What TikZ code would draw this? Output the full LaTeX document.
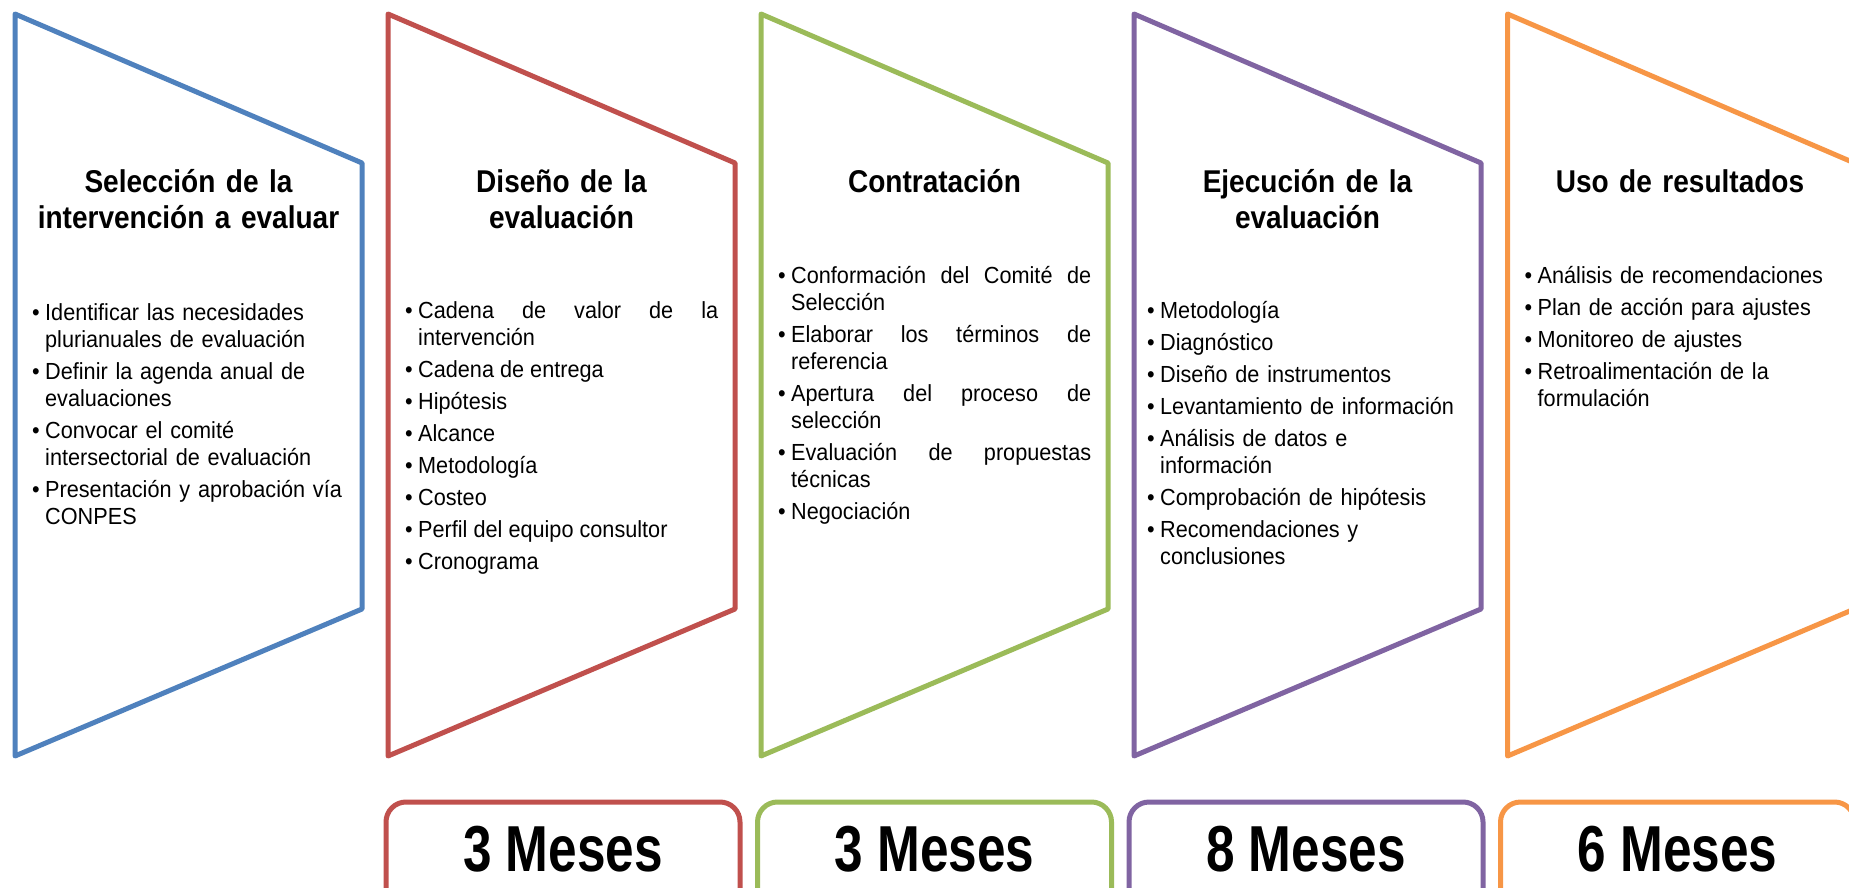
\documentclass[tikz,border=0pt]{standalone}
\usepackage{fontspec}
\setmainfont[FakeStretch=0.93]{Liberation Sans}
\newfontfamily\headfont[FakeStretch=0.89]{Liberation Sans}
\newfontfamily\mesfont[FakeStretch=0.79]{Liberation Sans}

\definecolor{cblue}{HTML}{4F81BD}
\definecolor{cred}{HTML}{C0504D}
\definecolor{cgreen}{HTML}{9BBB59}
\definecolor{cpurple}{HTML}{8064A2}
\definecolor{corange}{HTML}{F79646}

% bullet item with hanging indent
\newcommand{\bul}[1]{\noindent\hangindent=13pt\hangafter=1\makebox[13pt][l]{\textbullet}#1\par}

\begin{document}
\begin{tikzpicture}[x=1pt, y=-1pt,
    stage/.style={line width=5pt, line join=round},
    head/.style={font=\headfont\bfseries\fontsize{31.5}{36}\selectfont, align=center, text width=340pt, inner sep=0pt, anchor=base},
    body/.style={font=\fontsize{23.3}{27}\selectfont, text width=313pt, inner sep=0pt, anchor=base west,
      execute at begin node={\setlength{\parskip}{5pt}\hyphenpenalty=10000}},
    mesbox/.style={line width=5pt, rounded corners=20pt},
    mes/.style={font=\mesfont\bfseries\fontsize{65}{70}\selectfont, inner sep=0pt, anchor=base}]
    \useasboundingbox (0,0) rectangle (1849,888);
    \clip (0,0) rectangle (1849,888);

    % stages
    \draw[stage, cblue] (15,14) -- (362,163) -- (362,609) -- (15,756) -- cycle;
    \draw[stage, cred] (388,14) -- (735,163) -- (735,609) -- (388,756) -- cycle;
    \draw[stage, cgreen] (761,14) -- (1108,163) -- (1108,609) -- (761,756) -- cycle;
    \draw[stage, cpurple] (1134,14) -- (1481,163) -- (1481,609) -- (1134,756) -- cycle;
    \draw[stage, corange] (1507.5,14) -- (1854.5,163) -- (1854.5,609) -- (1507.5,756) -- cycle;

    % titles
    \node[head] (seleccion) at (188.5,192) {Selección de la\\ intervención a evaluar};
    \node[head] (diseno) at (561.5,192) {Diseño de la\\ evaluación};
    \node[head] (contratacion) at (934.5,192) {Contratación};
    \node[head] (ejecucion) at (1307.5,192) {Ejecución de la\\ evaluación};
    \node[head] (uso) at (1680,192) {Uso de resultados};

    % activities
    \node[body, align=left] (seleccionlist) at (32,320) {%
      \bul{Identificar las necesidades\linebreak plurianuales de evaluación}
      \bul{Definir la agenda anual de\linebreak evaluaciones}
      \bul{Convocar el comité\linebreak intersectorial de evaluación}
      \bul{Presentación y aprobación vía\linebreak CONPES}};
    \node[body, align=justify] (disenolist) at (405,318) {%
      \bul{Cadena de valor de la\linebreak intervención}
      \bul{Cadena de entrega}
      \bul{Hipótesis}
      \bul{Alcance}
      \bul{Metodología}
      \bul{Costeo}
      \bul{Perfil del equipo consultor}
      \bul{Cronograma}};
    \node[body, align=justify] (contratacionlist) at (778,283) {%
      \bul{Conformación del Comité de\linebreak Selección}
      \bul{Elaborar los términos de\linebreak referencia}
      \bul{Apertura del proceso de\linebreak selección}
      \bul{Evaluación de propuestas\linebreak técnicas}
      \bul{Negociación}};
    \node[body, align=left] (ejecucionlist) at (1147,318) {%
      \bul{Metodología}
      \bul{Diagnóstico}
      \bul{Diseño de instrumentos}
      \bul{Levantamiento de información}
      \bul{Análisis de datos e\linebreak información}
      \bul{Comprobación de hipótesis}
      \bul{Recomendaciones y\linebreak conclusiones}};
    \node[body, align=left] (usolist) at (1524.5,283) {%
      \bul{Análisis de recomendaciones}
      \bul{Plan de acción para ajustes}
      \bul{Monitoreo de ajustes}
      \bul{Retroalimentación de la\linebreak formulación}};

    % durations
    \draw[mesbox, cred] (386,802) rectangle (740,960);
    \draw[mesbox, cgreen] (757.5,802) rectangle (1111.5,960);
    \draw[mesbox, cpurple] (1129,802) rectangle (1483,960);
    \draw[mesbox, corange] (1500.5,802) rectangle (1854.5,960);
    \node[mes] (mesdiseno) at (563,871) {3 Meses};
    \node[mes] (mescontratacion) at (934.5,871) {3 Meses};
    \node[mes] (mesejecucion) at (1306,871) {8 Meses};
    \node[mes] (mesuso) at (1677.5,871) {6 Meses};
\end{tikzpicture}
\end{document}
